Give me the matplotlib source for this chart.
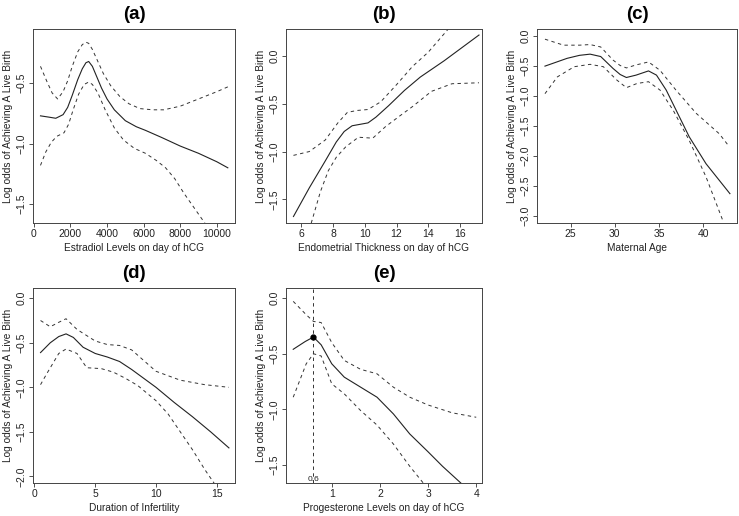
import matplotlib
matplotlib.use("Agg")
import matplotlib.pyplot as plt

plt.rcParams['font.family'] = ['Liberation Sans', 'DejaVu Sans']

# ---- (a) Estradiol ----
a_x = [365, 800, 1200, 1600, 1850, 2100, 2400, 2650, 2850, 3000, 3200, 3450, 3700, 4000, 4400, 5000, 5600, 6100, 7000, 8000, 9000, 10000, 10600]
a_fit = [-0.77, -0.78, -0.79, -0.76, -0.70, -0.60, -0.47, -0.38, -0.33, -0.32, -0.36, -0.45, -0.54, -0.63, -0.72, -0.81, -0.86, -0.89, -0.95, -1.02, -1.08, -1.15, -1.20]
a_up_x = [365, 700, 1000, 1300, 1600, 1850, 2100, 2400, 2650, 2850, 3000, 3200, 3500, 3800, 4200, 4700, 5200, 5800, 6500, 7100, 8000, 9000, 10000, 10600]
a_up = [-0.36, -0.48, -0.58, -0.63, -0.57, -0.48, -0.36, -0.24, -0.18, -0.16, -0.17, -0.22, -0.32, -0.42, -0.52, -0.61, -0.67, -0.71, -0.72, -0.72, -0.69, -0.63, -0.57, -0.53]
a_lo_x = [365, 650, 950, 1250, 1650, 1900, 2150, 2450, 2750, 3000, 3200, 3500, 3900, 4400, 4900, 5500, 6100, 6700, 7200, 7700, 8200, 8800, 9400]
a_lo = [-1.18, -1.07, -0.99, -0.94, -0.91, -0.84, -0.72, -0.59, -0.51, -0.49, -0.51, -0.58, -0.72, -0.87, -0.97, -1.04, -1.08, -1.14, -1.20, -1.29, -1.41, -1.54, -1.67]

# ---- (b) Endometrial thickness ----
b_x = [5.5, 6.5, 7.5, 8.2, 8.7, 9.2, 9.7, 10.2, 10.7, 11.5, 12.5, 13.5, 15.0, 17.2]
b_fit = [-1.68, -1.38, -1.10, -0.90, -0.79, -0.73, -0.715, -0.70, -0.64, -0.52, -0.36, -0.22, -0.05, 0.22]
b_up_x = [5.5, 6.5, 7.5, 8.3, 8.9, 9.5, 10.2, 11.0, 12.0, 13.0, 14.0, 15.3]
b_up = [-1.04, -1.00, -0.88, -0.70, -0.59, -0.57, -0.56, -0.48, -0.30, -0.11, 0.04, 0.29]
b_lo_x = [6.62, 7.2, 7.7, 8.2, 8.8, 9.6, 10.5, 11.3, 12.1, 13.0, 14.2, 15.5, 17.2]
b_lo = [-1.75, -1.42, -1.20, -1.06, -0.95, -0.85, -0.86, -0.74, -0.64, -0.53, -0.37, -0.29, -0.28]

# ---- (c) Maternal age ----
c_x = [22.1, 24.6, 26.0, 27.2, 28.4, 29.8, 30.6, 31.3, 32.4, 33.8, 34.7, 35.8, 37.3, 38.4, 40.3, 43.0]
c_fit = [-0.50, -0.37, -0.32, -0.30, -0.34, -0.54, -0.64, -0.69, -0.65, -0.58, -0.65, -0.90, -1.35, -1.68, -2.13, -2.63]
c_up_x = [22.1, 24.2, 26.0, 27.2, 28.4, 29.8, 30.6, 31.3, 32.4, 33.8, 35.1, 36.9, 39.2, 41.8, 42.9]
c_up = [-0.05, -0.15, -0.15, -0.14, -0.18, -0.40, -0.49, -0.53, -0.48, -0.43, -0.57, -0.90, -1.29, -1.63, -1.84]
c_lo_x = [22.1, 23.5, 25.4, 27.2, 28.7, 30.2, 31.3, 32.5, 33.8, 35.1, 36.6, 38.4, 40.3, 42.2]
c_lo = [-0.96, -0.68, -0.51, -0.47, -0.51, -0.73, -0.86, -0.79, -0.76, -0.90, -1.24, -1.74, -2.35, -3.08]

# ---- (d) Duration of infertility ----
d_x = [0.5, 1.3, 2.0, 2.6, 3.2, 4.0, 5.0, 6.0, 7.0, 8.0, 9.0, 10.0, 11.5, 13.0, 14.5, 16.0]
d_fit = [-0.61, -0.50, -0.43, -0.40, -0.44, -0.55, -0.62, -0.66, -0.71, -0.80, -0.90, -1.00, -1.17, -1.33, -1.50, -1.68]
d_up_x = [0.5, 1.3, 2.0, 2.6, 3.5, 5.0, 6.0, 7.0, 8.0, 9.0, 10.0, 12.0, 14.0, 16.0]
d_up = [-0.25, -0.32, -0.27, -0.23, -0.35, -0.48, -0.52, -0.53, -0.58, -0.70, -0.82, -0.92, -0.97, -1.00]
d_lo_x = [0.5, 1.0, 2.0, 2.6, 3.5, 4.3, 5.5, 6.5, 7.5, 8.5, 10.0, 11.0, 12.0, 13.0, 14.0, 14.8]
d_lo = [-0.97, -0.85, -0.62, -0.57, -0.62, -0.78, -0.79, -0.83, -0.90, -0.98, -1.15, -1.30, -1.50, -1.70, -1.92, -2.08]

# ---- (e) Progesterone ----
e_x = [0.2, 0.45, 0.62, 0.78, 1.0, 1.26, 1.6, 1.94, 2.28, 2.62, 3.0, 3.3, 3.68]
e_fit = [-0.46, -0.39, -0.35, -0.42, -0.59, -0.71, -0.80, -0.89, -1.04, -1.22, -1.38, -1.51, -1.66]
e_up_x = [0.2, 0.47, 0.62, 0.78, 1.0, 1.26, 1.6, 1.94, 2.28, 2.62, 3.0, 3.5, 4.0]
e_up = [-0.03, -0.15, -0.21, -0.22, -0.40, -0.56, -0.64, -0.68, -0.80, -0.89, -0.96, -1.03, -1.07]
e_lo_x = [0.2, 0.47, 0.62, 0.78, 1.0, 1.26, 1.6, 1.94, 2.28, 2.62, 2.9]
e_lo = [-0.89, -0.59, -0.50, -0.52, -0.77, -0.86, -1.01, -1.14, -1.31, -1.51, -1.66]
e_peak_x = 0.62
e_peak_y = -0.35
e_cut_label = "0.6"

ylab = "Log odds of Achieving A Live Birth"

W, H = 739, 516
fig = plt.figure(figsize=(W / 100, H / 100), dpi=100)


def make_ax(l, t, r, b):
	return fig.add_axes([l / W, 1 - b / H, (r - l) / W, (b - t) / H])


def style(ax, title, xlabel, xlim, ylim, xticks, yticks):
	ax.set_xlim(*xlim)
	ax.set_ylim(*ylim)
	ax.set_xticks(xticks)
	ax.set_yticks(yticks)
	ax.set_xticklabels([str(v) for v in xticks])
	ax.set_yticklabels([f"{v:.1f}".replace("-", "\u2212") for v in yticks], rotation=90, va='center')
	ax.tick_params(length=3, width=0.6, pad=1.5, labelsize=7.5, color='#333333', labelcolor='#222222')
	for s in ax.spines.values():
		s.set_color('#444444')
		s.set_linewidth(0.7)
	ax.set_title(title, fontsize=13.5, fontweight='bold', pad=7)
	ax.set_xlabel(xlabel, fontsize=7.3, labelpad=2.5, color='#222222')
	ax.set_ylabel(ylab, fontsize=7.3, labelpad=2.5, color='#222222')


def curves(ax, x, fit, ux, up, lx, lo):
	ax.plot(x, fit, color='#222222', lw=0.8)
	ax.plot(ux, up, color='#333333', lw=0.7, dashes=(3.5, 3.5))
	ax.plot(lx, lo, color='#333333', lw=0.7, dashes=(3.5, 3.5))


ax = make_ax(33, 29, 235, 223)
curves(ax, a_x, a_fit, a_up_x, a_up, a_lo_x, a_lo)
style(ax, "(a)", "Estradiol Levels on day of hCG", (-44, 10993), (-1.657, -0.051),
	[0, 2000, 4000, 6000, 8000, 10000], [-1.5, -1.0, -0.5])

ax = make_ax(286, 29, 482, 223)
curves(ax, b_x, b_fit, b_up_x, b_up, b_lo_x, b_lo)
style(ax, "(b)", "Endometrial Thickness on day of hCG", (5.03, 17.39), (-1.748, 0.283),
	[6, 8, 10, 12, 14, 16], [-1.5, -1.0, -0.5, 0.0])

ax = make_ax(537, 29, 737, 223)
curves(ax, c_x, c_fit, c_up_x, c_up, c_lo_x, c_lo)
style(ax, "(c)", "Maternal Age", (21.2, 43.8), (-3.12, 0.12),
	[25, 30, 35, 40], [-3.0, -2.5, -2.0, -1.5, -1.0, -0.5, 0.0])

ax = make_ax(33, 288, 235, 483)
curves(ax, d_x, d_fit, d_up_x, d_up, d_lo_x, d_lo)
style(ax, "(d)", "Duration of Infertility", (-0.12, 16.5), (-2.074, 0.115),
	[0, 5, 10, 15], [-2.0, -1.5, -1.0, -0.5, 0.0])

ax = make_ax(286, 288, 482, 483)
curves(ax, e_x, e_fit, e_up_x, e_up, e_lo_x, e_lo)
ax.axvline(e_peak_x, color='#333333', lw=0.7, dashes=(3.5, 3.5))
ax.plot([e_peak_x], [e_peak_y], 'o', color='black', ms=3.5)
ax.text(e_peak_x, -1.66, e_cut_label, ha='center', va='bottom', fontsize=6, color='#222222')
style(ax, "(e)", "Progesterone Levels on day of hCG", (0.05, 4.12), (-1.66, 0.09),
	[1, 2, 3, 4], [-1.5, -1.0, -0.5, 0.0])

fig.savefig("out.png", dpi=100)
